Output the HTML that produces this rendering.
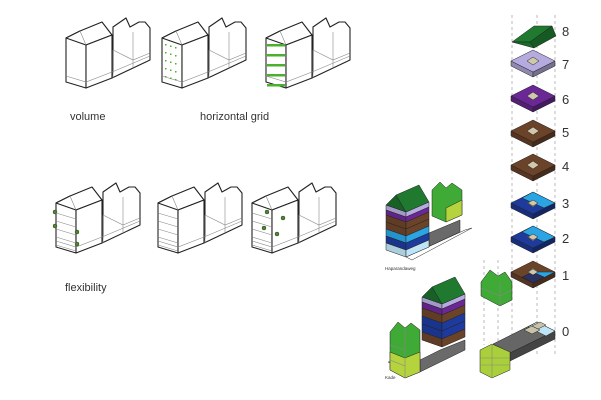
<!DOCTYPE html>
<html><head><meta charset="utf-8"><style>
html,body{margin:0;padding:0;background:#fff;}
svg{display:block;font-family:"Liberation Sans",sans-serif;}
.o{fill:#fff;stroke:#222;stroke-width:1.1;stroke-linejoin:round}
.l{fill:none;stroke:#888;stroke-width:.6}
.d{stroke:#bbb;stroke-width:1;stroke-dasharray:3,3;fill:none}
</style></head><body>
<svg id="s" width="601" height="400" viewBox="0 0 601 400" xmlns="http://www.w3.org/2000/svg">
<defs>
<g id="bld">
 <polygon class="o" points="16,28 16,72 36,78 36,35 30,21"/>
 <polygon class="o" points="16,28 30,21 52,12 62,25 36,35"/>
 <polygon class="o" points="36,35 62,25 62,25 62,68 36,78"/>
 <polygon class="o" points="63,17 76,8 80,17 89,12 95,12 100,18 100,50 62,68 63,60 63,40"/>
 <polyline class="l" points="16,66 36,72 62,62 100,46"/>
 <polyline class="l" points="63,40 83,50 100,43"/>
 <line class="l" x1="83" y1="22" x2="83" y2="58"/>
 <line class="l" x1="63" y1="40" x2="63" y2="68"/>
 <polyline class="l" points="30,21 36,35"/>
</g>
</defs>
<use href="#bld" x="50" y="10"/><use href="#bld" x="146" y="10"/><use href="#bld" x="250" y="10"/>
<use href="#bld" x="40" y="175"/><use href="#bld" x="142" y="175"/><use href="#bld" x="236" y="175"/>
<g id="extra"></g>
<text x="70" y="120" font-size="11" fill="#333">volume</text>
<text x="200" y="120" font-size="11" fill="#333">horizontal grid</text>
<text x="65" y="291" font-size="11" fill="#333">flexibility</text>
<text x="385" y="270" font-size="4.5" fill="#333">Haparandaweg</text>
<text x="385" y="379" font-size="4.5" fill="#333">Kade</text>
<g font-size="13" fill="#333">
<text x="562" y="36">8</text><text x="562" y="69">7</text><text x="562" y="104">6</text>
<text x="562" y="137">5</text><text x="562" y="171">4</text><text x="562" y="208">3</text>
<text x="562" y="243">2</text><text x="562" y="280">1</text><text x="562" y="336">0</text>
</g>
</svg>
<script>
const ns="http://www.w3.org/2000/svg",E=document.getElementById('extra');
function P(pts,fill,stroke,sw){const p=document.createElementNS(ns,'polygon');p.setAttribute('points',pts.map(a=>a.join(',')).join(' '));p.setAttribute('fill',fill);p.setAttribute('stroke',stroke||'#222');p.setAttribute('stroke-width',sw||0.5);E.appendChild(p);}
function L(x1,y1,x2,y2,c){const l=document.createElementNS(ns,'line');[['x1',x1],['y1',y1],['x2',x2],['y2',y2]].forEach(a=>l.setAttribute(a[0],a[1]));l.setAttribute('class',c||'d');E.appendChild(l);}
[512,537,555].forEach(x=>L(x,15,x,355));
[484,498].forEach(x=>L(x,260,x,345));
function shade(c,f){let n=parseInt(c.slice(1),16),r=(n>>16)*f,g=((n>>8)&255)*f,b=(n&255)*f;return `rgb(${r|0},${g|0},${b|0})`;}
function slab(cx,cy,col,sq){const w=22,h=11,t=5;
 P([[cx-w,cy],[cx,cy+h],[cx,cy+h+t],[cx-w,cy+t]],shade(col,.8));
 P([[cx,cy+h],[cx+w,cy],[cx+w,cy+t],[cx,cy+h+t]],shade(col,.65));
 P([[cx-w,cy],[cx,cy-h],[cx+w,cy],[cx,cy+h]],col);
 if(sq)P([[cx-6,cy],[cx,cy-4],[cx+6,cy],[cx,cy+4]],'#cfc8ad');}
P([[512,42],[534,26],[552,26],[530,42]],'#1f7a30');P([[530,42],[552,26],[556,36],[534,48]],'#155a22');P([[512,42],[530,42],[534,48]],'#1a6a28');
slab(533,61,'#b6abdf',1);slab(533,96,'#6b2796',1);slab(533,131,'#6b4328',1);slab(533,165,'#6b4328',1);
slab(533,203,'#1d3a9c',1);P([[533,192],[555,203],[544,208],[522,198]],'#2aa4e2');P([[528,203],[533,200],[538,203],[533,206]],'#cfc8ad');
slab(533,237,'#1d3a9c',1);P([[533,226],[555,237],[544,242],[522,232]],'#2aa4e2');P([[528,237],[533,234],[538,237],[533,240]],'#cfc8ad');
slab(533,272,'#6b4328',1);P([[533,272],[555,272],[533,283]],'#2aa4e2');P([[522,277],[533,272],[544,277],[533,283]],'#2c3060');P([[528,272],[533,269],[538,272],[533,275]],'#cfc8ad');
// floor 0
P([[493,344],[537,322],[555,331],[510,353]],'#666');P([[510,353],[555,331],[555,339],[510,361]],'#444');
P([[537,322],[555,331],[546,336],[528,327]],'#bfe4f5');P([[524,330],[532,326],[540,330],[532,334]],'#c8c2a8');P([[532,326],[540,322],[546,325],[538,329]],'#c8c2a8');
P([[480,350],[492,344],[510,352],[510,370],[492,378],[480,372]],'#a9cf3a');L(480,358,510,358,'l');L(480,365,510,365,'l');L(492,344,492,378,'l');
P([[481,282],[490,270],[498,276],[505,272],[512,282],[512,300],[500,306],[481,296]],'#3faa35');L(481,288,500,296,'l');L(500,282,500,306,'l');L(500,296,512,290,'l');
function tower(x0,x1,x2,yt,dyL,dyR,bands,roofc){let y=yt;
 bands.forEach(b=>{const [h,c]=b;
  P([[x0,y],[x1,y+dyL],[x1,y+dyL+h],[x0,y+h]],shade(c,.9));
  P([[x1,y+dyL],[x2,y+dyL-dyR],[x2,y+dyL-dyR+h],[x1,y+dyL+h]],c);y+=h;});
 const px=(x0+x1)/2;
 P([[x0,yt],[px,yt-10],[x1,yt+dyL]],shade(roofc,.8));
 P([[px,yt-10],[px+(x2-x1),yt-10-dyR],[x2,yt+dyL-dyR],[x1,yt+dyL]],roofc);}
P([[406,257],[465,230],[472,228],[412,260]],'#fff');
P([[406,257],[460,232],[460,220],[429,233],[429,247]],'#6a6a6a');
P([[432,190],[440,182],[446,188],[452,183],[462,190],[462,215],[446,222],[432,216]],'#3faa35');
P([[446,208],[462,200],[462,215],[446,222]],'#b5d33d');
tower(386,406,429,205,7,10,[[5,'#b6abdf'],[5,'#6b2796'],[7,'#6b4328'],[7,'#6b4328'],[7,'#2aa4e2'],[7,'#1d3a9c'],[7,'#bfe4f5']],'#1f7a30');
P([[388,362],[420,372],[465,350],[465,340],[440,350],[420,360]],'#6a6a6a');
tower(422,442,465,297,7,10,[[5,'#b6abdf'],[6,'#6b2796'],[8,'#6b4328'],[8,'#1d3a9c'],[8,'#1d3a9c'],[8,'#6b4328']],'#1f7a30');
P([[390,332],[398,322],[405,328],[411,323],[420,330],[420,372],[405,378],[390,370]],'#3faa35');
P([[390,352],[405,358],[420,352],[420,372],[405,378],[390,370]],'#b5d33d');
L(405,328,405,378,'l');L(390,345,405,350,'l');L(390,360,405,366,'l');
function g(x,y,w,h){const r=document.createElementNS(ns,'rect');r.setAttribute('x',x);r.setAttribute('y',y);r.setAttribute('width',w);r.setAttribute('height',h);r.setAttribute('fill','#4caf2e');E.appendChild(r);}
for(let i=0;i<5;i++)g(267,44+i*10,18,2.5);
for(let i=0;i<5;i++)for(let j=0;j<3;j++)g(165+j*5,44+i*8+j*1.5,1.5,1.5);
[[55,212],[55,226],[77,232],[77,244],[267,212],[283,218],[264,228],[277,234]].forEach(a=>{const c=document.createElementNS(ns,'circle');c.setAttribute('cx',a[0]);c.setAttribute('cy',a[1]);c.setAttribute('r',2);c.setAttribute('fill','#4a8a2a');c.setAttribute('stroke','#222');c.setAttribute('stroke-width',.4);E.appendChild(c);});
[[56,175],[158,175],[252,175]].forEach(b=>{for(let i=0;i<5;i++)L(b[0],b[1]+38+i*8,b[0]+20,b[1]+44+i*8,'l');});
</script>
</body></html>
